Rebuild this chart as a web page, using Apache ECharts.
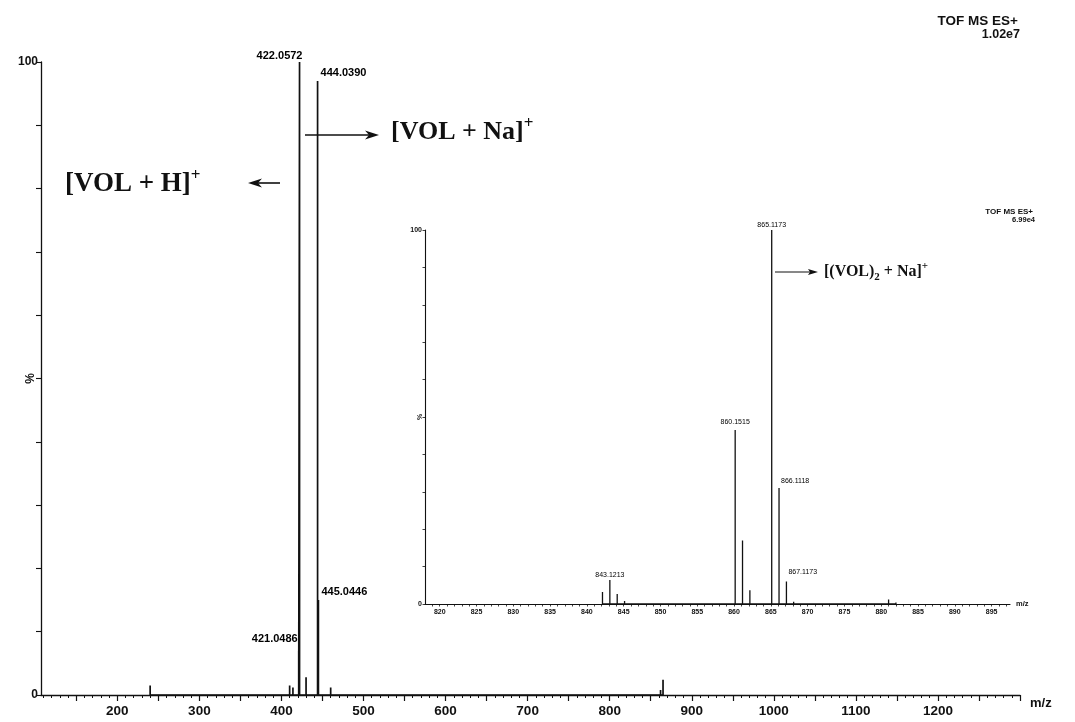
<!DOCTYPE html>
<html><head><meta charset="utf-8">
<script src="https://cdn.jsdelivr.net/npm/echarts@6/dist/echarts.min.js"></script>
<style>html,body{margin:0;padding:0;background:#fff}#c{width:1075px;height:722px}</style>
</head><body><div id="c"></div>
<script>
// ---- main spectrum (m/z, relative intensity %) ----
const mainMz  = [240, 410, 414, 421.0486, 422.0572, 430, 444.0390, 445.0446, 460, 862, 865];
const mainInt = [1.5, 1.5, 1.2, 7, 100, 2.8, 97, 15, 1.2, 0.8, 2.4];
const mainLabeled = [421.0486, 422.0572, 444.0390, 445.0446];
const mainTickLabels = [200, 300, 400, 500, 600, 700, 800, 900, 1000, 1100, 1200];
const mainMajorTicks = [150, 200, 250, 300, 350, 400, 450, 500, 550, 600, 650, 700, 750, 800, 850, 900, 950, 1000, 1050, 1100, 1150, 1200, 1250, 1300];

// ---- inset spectrum ----
const insetMz  = [842.12, 843.1213, 844.12, 845.12, 852.0, 860.1515, 861.15, 862.15, 863.1, 865.1173, 866.1118, 867.1173, 868.1, 881.0, 882.0];
const insetInt = [3.2, 6.4, 2.7, 0.8, 0.5, 46.5, 17, 3.7, 0.5, 100, 31, 6, 0.6, 1.2, 0.4];
const insetLabeled = [843.1213, 860.1515, 865.1173, 866.1118, 867.1173];
const insetTickLabels = [820, 825, 830, 835, 840, 845, 850, 855, 860, 865, 870, 875, 880, 885, 890, 895];

const SANS = '"Liberation Sans", Arial, sans-serif';
const SERIF = '"Liberation Serif", "Times New Roman", serif';
const INK = '#111111';

function sticks(mz, inten) {
  const idx = mz.map((_, i) => i).sort((a, b) => mz[a] - mz[b]);
  const out = [];
  idx.forEach(i => { out.push([mz[i], 0], [mz[i], inten[i]], [mz[i], 0]); });
  return out;
}
function range(a, b, s) { const r = []; for (let v = a; v <= b + 1e-9; v += s) r.push(+v.toFixed(4)); return r; }
function intensityOf(mz, inten, v) { return inten[mz.indexOf(v)]; }

const mainLabelPos = {
  421.0486: { position: 'left', offset: [4, -12] },
  422.0572: { position: 'top', distance: 1, offset: [-20, 0] },
  444.0390: { position: 'right', distance: 3, offset: [0, -8] },
  445.0446: { position: 'right', distance: 3, offset: [0, -8] }
};
const insetLabelPos = {
  843.1213: { position: 'top', distance: 2 },
  860.1515: { position: 'top', distance: 5 },
  865.1173: { position: 'top', distance: 1 },
  866.1118: { position: 'right', distance: 2, offset: [0, -7] },
  867.1173: { position: 'right', distance: 2, offset: [0, -9] }
};

const chart = echarts.init(document.getElementById('c'), null, { renderer: 'canvas' });

const option = {
  animation: false,
  backgroundColor: '#ffffff',
  grid: [
    { left: 41, right: 55, top: 62, bottom: 27, containLabel: false, outerBoundsMode: 'none' },
    { left: 425, right: 65, top: 230, bottom: 118, containLabel: false, outerBoundsMode: 'none' }
  ],
  xAxis: [
    { type: 'value', gridIndex: 0, min: 107, max: 1300,
      axisLine: { lineStyle: { color: INK, width: 1.3 } },
      axisTick: { show: true, length: 6, customValues: mainMajorTicks, lineStyle: { color: INK, width: 1.2 } },
      axisLabel: { customValues: mainTickLabels, formatter: v => String(v), color: INK, fontFamily: SANS, fontWeight: 'bold', fontSize: 13.5, margin: 9 },
      splitLine: { show: false },
      name: 'm/z', nameLocation: 'end', nameGap: 10,
      nameTextStyle: { color: INK, fontFamily: SANS, fontWeight: 'bold', fontSize: 13, verticalAlign: 'top', padding: [2, 0, 0, 0] } },
    { type: 'value', gridIndex: 0, min: 107, max: 1300, position: 'bottom',
      axisLine: { show: false },
      axisTick: { show: true, length: 3, customValues: range(110, 1300, 10), lineStyle: { color: INK, width: 1 } },
      axisLabel: { show: false }, splitLine: { show: false } },
    { type: 'value', gridIndex: 1, min: 818, max: 897.5,
      axisLine: { lineStyle: { color: INK, width: 1.1 } },
      axisTick: { show: true, length: 2.5, customValues: range(819, 897, 1), lineStyle: { color: INK, width: 0.8 } },
      axisLabel: { customValues: insetTickLabels, formatter: v => String(v), color: INK, fontFamily: SANS, fontWeight: 'bold', fontSize: 7, margin: 5 },
      splitLine: { show: false },
      name: 'm/z', nameLocation: 'end', nameGap: 6,
      nameTextStyle: { color: INK, fontFamily: SANS, fontWeight: 'bold', fontSize: 7.5, verticalAlign: 'middle' } }
  ],
  yAxis: [
    { type: 'value', gridIndex: 0, min: 0, max: 100, interval: 10,
      axisLine: { show: true, lineStyle: { color: INK, width: 1.3 } },
      axisTick: { show: true, length: 5, lineStyle: { color: INK, width: 1.1 } },
      axisLabel: { formatter: v => (v === 0 || v === 100) ? String(v) : '', color: INK, fontFamily: SANS, fontWeight: 'bold', fontSize: 12, margin: 3 },
      splitLine: { show: false },
      name: '%', nameLocation: 'middle', nameGap: 4, nameRotate: 90, nameMoveOverlap: false,
      nameTextStyle: { color: INK, fontFamily: SANS, fontWeight: 'bold', fontSize: 12 } },
    { type: 'value', gridIndex: 1, min: 0, max: 100, interval: 10,
      axisLine: { show: true, lineStyle: { color: INK, width: 1.1 } },
      axisTick: { show: true, length: 2.5, lineStyle: { color: INK, width: 0.8 } },
      axisLabel: { formatter: v => (v === 0 || v === 100) ? String(v) : '', color: INK, fontFamily: SANS, fontWeight: 'bold', fontSize: 7, margin: 3 },
      splitLine: { show: false },
      name: '%', nameLocation: 'middle', nameGap: 1, nameRotate: 90, nameMoveOverlap: false,
      nameTextStyle: { color: INK, fontFamily: SANS, fontWeight: 'bold', fontSize: 7 } }
  ],
  series: [
    { type: 'line', xAxisIndex: 0, yAxisIndex: 0, data: sticks(mainMz, mainInt),
      showSymbol: false, symbol: 'none', silent: true,
      lineStyle: { color: INK, width: 1.7 } },
    { type: 'scatter', xAxisIndex: 0, yAxisIndex: 0, symbolSize: 0, silent: true,
      itemStyle: { opacity: 1 },
      data: mainLabeled.map(v => ({ value: [v, intensityOf(mainMz, mainInt, v)], label: mainLabelPos[v] })),
      label: { show: true, opacity: 1, formatter: p => p.value[0].toFixed(4), color: '#000', fontFamily: SANS, fontWeight: 'bold', fontSize: 11 } },
    { type: 'line', xAxisIndex: 2, yAxisIndex: 1, data: sticks(insetMz, insetInt),
      showSymbol: false, symbol: 'none', silent: true,
      lineStyle: { color: INK, width: 1.3 } },
    { type: 'scatter', xAxisIndex: 2, yAxisIndex: 1, symbolSize: 0, silent: true,
      itemStyle: { opacity: 1 },
      data: insetLabeled.map(v => ({ value: [v, intensityOf(insetMz, insetInt, v)], label: insetLabelPos[v] })),
      label: { show: true, opacity: 1, formatter: p => p.value[0].toFixed(4), color: '#000', fontFamily: SANS, fontSize: 7 } }
  ],
  graphic: [
    // instrument headers
    { type: 'text', x: 1018, y: 21, style: { text: 'TOF MS ES+', align: 'right', verticalAlign: 'middle', fill: INK, font: 'bold 13.5px ' + SANS } },
    { type: 'text', x: 1020, y: 35, style: { text: '1.02e7', align: 'right', verticalAlign: 'middle', fill: INK, font: 'bold 12.5px ' + SANS } },
    { type: 'text', x: 1033, y: 212, style: { text: 'TOF MS ES+', align: 'right', verticalAlign: 'middle', fill: INK, font: 'bold 8px ' + SANS } },
    { type: 'text', x: 1035, y: 219.5, style: { text: '6.99e4', align: 'right', verticalAlign: 'middle', fill: INK, font: 'bold 7.5px ' + SANS } },
    // annotation: [VOL + H]+
    { type: 'text', x: 65, y: 184, style: {
        text: '{m|[VOL + H]}{s|+}', verticalAlign: 'middle', align: 'left',
        rich: { m: { fontFamily: SERIF, fontWeight: 'bold', fontSize: 27, fill: INK, lineHeight: 34 },
                s: { fontFamily: SERIF, fontWeight: 'bold', fontSize: 17, fill: INK, lineHeight: 12, verticalAlign: 'top' } } } },
    { type: 'line', shape: { x1: 254, y1: 183, x2: 280, y2: 183 }, style: { stroke: INK, lineWidth: 1.6 } },
    { type: 'polygon', shape: { points: [[248, 183], [262, 178.5], [258, 183], [262, 187.5]] }, style: { fill: INK } },
    // annotation: [VOL + Na]+
    { type: 'text', x: 391, y: 132, style: {
        text: '{m|[VOL + Na]}{s|+}', verticalAlign: 'middle', align: 'left',
        rich: { m: { fontFamily: SERIF, fontWeight: 'bold', fontSize: 26, fill: INK, lineHeight: 34 },
                s: { fontFamily: SERIF, fontWeight: 'bold', fontSize: 17, fill: INK, lineHeight: 12, verticalAlign: 'top' } } } },
    { type: 'line', shape: { x1: 305, y1: 135, x2: 372, y2: 135 }, style: { stroke: INK, lineWidth: 1.6 } },
    { type: 'polygon', shape: { points: [[379, 135], [365, 130.5], [369, 135], [365, 139.5]] }, style: { fill: INK } },
    // annotation: [(VOL)2 + Na]+
    { type: 'text', x: 824, y: 272, style: {
        text: '{m|[(VOL)}{b|2}{m| + Na]}{s|+}', verticalAlign: 'middle', align: 'left',
        rich: { m: { fontFamily: SERIF, fontWeight: 'bold', fontSize: 16, fill: INK, lineHeight: 22 },
                b: { fontFamily: SERIF, fontWeight: 'bold', fontSize: 11, fill: INK, lineHeight: 11, verticalAlign: 'bottom' },
                s: { fontFamily: SERIF, fontWeight: 'bold', fontSize: 11, fill: INK, lineHeight: 8, verticalAlign: 'top' } } } },
    { type: 'line', shape: { x1: 775, y1: 272, x2: 812, y2: 272 }, style: { stroke: INK, lineWidth: 1 } },
    { type: 'polygon', shape: { points: [[818, 272], [808, 269], [810, 272], [808, 275]] }, style: { fill: INK } }
  ]
};
chart.setOption(option);
</script>
</body></html>
